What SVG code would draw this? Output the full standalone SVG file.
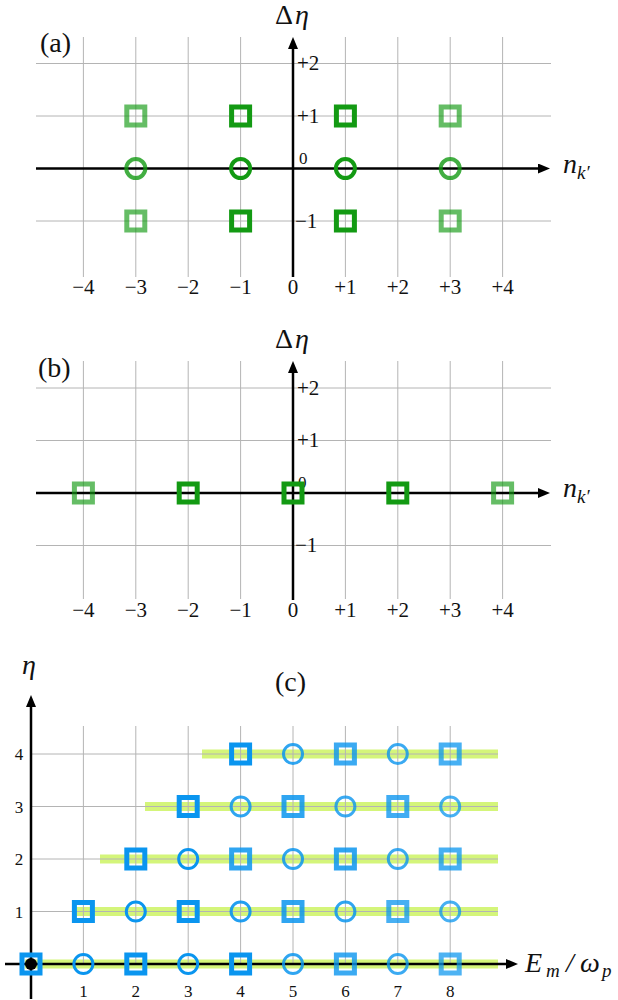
<svg xmlns="http://www.w3.org/2000/svg" width="618" height="1000" viewBox="0 0 618 1000">
<defs>
<marker id="arr" markerUnits="userSpaceOnUse" viewBox="0 0 12 10" refX="1" refY="5" markerWidth="12" markerHeight="10" orient="auto">
<path d="M0,0 L12,5 L0,10 z" fill="#000"/>
</marker>
<style>
.grid{stroke:#b4b4b4;stroke-width:1;fill:none}
.axis{stroke:#000;stroke-width:2.5;fill:none;marker-end:url(#arr)}
.tk{font-family:"Liberation Serif",serif;font-size:21px;fill:#111}
.tkc{font-family:"Liberation Serif",serif;font-size:17px;fill:#111;text-anchor:middle}
.lab{font-family:"Liberation Serif",serif;font-size:28px;fill:#111}
.it{font-style:italic}
.sq{fill:none;stroke-width:5}
.ci{fill:none;stroke-width:4}
.gd{stroke:#139a13}
.gl{stroke:#139a13;stroke-opacity:0.65}
.gm{stroke:#139a13;stroke-opacity:0.8}
.bsq{fill:none;stroke:#0a95ef;stroke-width:5}
.bci{fill:none;stroke:#0a95ef;stroke-width:3}
.band{fill:#d4f57a}
</style>
</defs>

<!-- Panel (a) -->
<g id="panel-a-grid">
<path class="grid" d="M83.4,37V277M135.8,37V277M188.2,37V277M240.6,37V277M345.4,37V277M397.8,37V277M450.2,37V277M502.6,37V277M36,63.5H551M36,116H551M36,221H551"/>
</g>
<g id="connectors-a">
<line class="axis" x1="36" y1="168.5" x2="539" y2="168.5"/>
<line class="axis" x1="293" y1="277" x2="293" y2="48"/>
</g>
<g id="labels-a">
<text class="lab" x="40" y="52">(a)</text>
<text class="lab" x="275" y="24">Δ<tspan class="it" x="295">η</tspan></text>
<text class="lab it" x="563" y="173">n<tspan font-size="19" dy="6">k′</tspan></text>
<g class="tk" text-anchor="middle">
<text x="83.4" y="294">−4</text><text x="135.8" y="294">−3</text><text x="188.2" y="294">−2</text><text x="240.6" y="294">−1</text><text x="293" y="294">0</text>
<text x="345.4" y="294">+1</text><text x="397.8" y="294">+2</text><text x="450.2" y="294">+3</text><text x="502.6" y="294">+4</text>
</g>
<g class="tk">
<text x="297" y="70">+2</text><text x="297" y="123">+1</text><text x="299" y="164" font-size="17">0</text><text x="295" y="228">−1</text>
</g>
</g>
<g id="a-sq-m3-p1"><rect class="sq gl" x="126.8" y="107" width="18" height="18"/></g>
<g id="a-sq-m1-p1"><rect class="sq gd" x="231.6" y="107" width="18" height="18"/></g>
<g id="a-sq-p1-p1"><rect class="sq gd" x="336.4" y="107" width="18" height="18"/></g>
<g id="a-sq-p3-p1"><rect class="sq gl" x="441.2" y="107" width="18" height="18"/></g>
<g id="a-ci-m3-0"><circle class="ci gm" cx="135.8" cy="168.5" r="9.5"/></g>
<g id="a-ci-m1-0"><circle class="ci gd" cx="240.6" cy="168.5" r="9.5"/></g>
<g id="a-ci-p1-0"><circle class="ci gd" cx="345.4" cy="168.5" r="9.5"/></g>
<g id="a-ci-p3-0"><circle class="ci gm" cx="450.2" cy="168.5" r="9.5"/></g>
<g id="a-sq-m3-m1"><rect class="sq gl" x="126.8" y="212" width="18" height="18"/></g>
<g id="a-sq-m1-m1"><rect class="sq gd" x="231.6" y="212" width="18" height="18"/></g>
<g id="a-sq-p1-m1"><rect class="sq gd" x="336.4" y="212" width="18" height="18"/></g>
<g id="a-sq-p3-m1"><rect class="sq gl" x="441.2" y="212" width="18" height="18"/></g>

<!-- Panel (b) -->
<g id="panel-b-grid">
<path class="grid" d="M83.4,361V599M135.8,361V599M188.2,361V599M240.6,361V599M345.4,361V599M397.8,361V599M450.2,361V599M502.6,361V599M36,388H551M36,440.5H551M36,545.5H551"/>
</g>
<g id="connectors-b">
<line class="axis" x1="36" y1="493" x2="539" y2="493"/>
<line class="axis" x1="293" y1="600" x2="293" y2="372"/>
</g>
<g id="labels-b">
<text class="lab" x="38" y="377">(b)</text>
<text class="lab" x="275" y="348">Δ<tspan class="it" x="295">η</tspan></text>
<text class="lab it" x="563" y="497">n<tspan font-size="19" dy="6">k′</tspan></text>
<g class="tk" text-anchor="middle">
<text x="83.4" y="617">−4</text><text x="135.8" y="617">−3</text><text x="188.2" y="617">−2</text><text x="240.6" y="617">−1</text><text x="293" y="617">0</text>
<text x="345.4" y="617">+1</text><text x="397.8" y="617">+2</text><text x="450.2" y="617">+3</text><text x="502.6" y="617">+4</text>
</g>
<g class="tk">
<text x="297" y="395">+2</text><text x="297" y="447">+1</text><text x="298" y="488" font-size="17">0</text><text x="295" y="552">−1</text>
</g>
</g>
<g id="b-sq-m4"><rect class="sq gl" x="74.4" y="484" width="18" height="18"/></g>
<g id="b-sq-m2"><rect class="sq gd" x="179.2" y="484" width="18" height="18"/></g>
<g id="b-sq-0"><rect class="sq gd" x="284" y="484" width="18" height="18"/></g>
<g id="b-sq-p2"><rect class="sq gd" x="388.8" y="484" width="18" height="18"/></g>
<g id="b-sq-p4"><rect class="sq gl" x="493.6" y="484" width="18" height="18"/></g>

<!-- Panel (c) -->
<g id="panel-c-bands">
<rect class="band" x="25" y="959.5" width="473" height="9"/>
<rect class="band" x="75" y="907" width="423" height="9"/>
<rect class="band" x="100" y="854.5" width="398" height="9"/>
<rect class="band" x="145" y="802" width="353" height="9"/>
<rect class="band" x="202" y="749.5" width="296" height="9"/>
</g>
<g id="panel-c-grid">
<path class="grid" stroke="#a8a8a8" d="M83.4,726V964M135.8,726V964M188.2,726V964M240.6,726V964M293,726V964M345.4,726V964M397.8,726V964M450.2,726V964M31,911.5H498M31,859H498M31,806.5H498M31,754H498"/>
</g>
<g id="connectors-c">
<line class="axis" x1="5" y1="964" x2="507" y2="964"/>
<line class="axis" x1="31" y1="999" x2="31" y2="706"/>
</g>
<g id="labels-c">
<text class="lab" x="275" y="691">(c)</text>
<text class="lab it" x="22" y="674">η</text>
<text class="lab it" x="525" y="972">E<tspan font-size="19" x="546" dy="5">m</tspan><tspan x="566" dy="-5">/</tspan><tspan x="580">ω</tspan><tspan font-size="19" x="602" dy="5">p</tspan></text>
<g class="tkc">
<text x="83.4" y="997">1</text><text x="135.8" y="997">2</text><text x="188.2" y="997">3</text><text x="240.6" y="997">4</text>
<text x="293" y="997">5</text><text x="345.4" y="997">6</text><text x="397.8" y="997">7</text><text x="450.2" y="997">8</text>
<text x="19" y="918">1</text><text x="19" y="865">2</text><text x="19" y="813">3</text><text x="19" y="760">4</text>
</g>
</g>

<!-- row 0 -->
<g id="c-0-0"><rect class="bsq" x="22" y="955" width="18" height="18"/><circle cx="31" cy="964" r="6" fill="#000"/></g>
<g id="c-1-0"><circle class="bci" cx="83.4" cy="964" r="9.5"/></g>
<g id="c-2-0"><rect class="bsq" x="126.8" y="955" width="18" height="18"/></g>
<g id="c-3-0"><circle class="bci" cx="188.2" cy="964" r="9.5"/></g>
<g id="c-4-0"><rect class="bsq" x="231.6" y="955" width="18" height="18"/></g>
<g id="c-5-0"><circle class="bci" stroke-opacity="0.85" cx="293" cy="964" r="9.5"/></g>
<g id="c-6-0"><rect class="bsq" stroke-opacity="0.8" x="336.4" y="955" width="18" height="18"/></g>
<g id="c-7-0"><circle class="bci" stroke-opacity="0.8" cx="397.8" cy="964" r="9.5"/></g>
<g id="c-8-0"><rect class="bsq" stroke-opacity="0.72" x="441.2" y="955" width="18" height="18"/></g>
<!-- row 1 -->
<g id="c-1-1"><rect class="bsq" x="74.4" y="902.5" width="18" height="18"/></g>
<g id="c-2-1"><circle class="bci" cx="135.8" cy="911.5" r="9.5"/></g>
<g id="c-3-1"><rect class="bsq" x="179.2" y="902.5" width="18" height="18"/></g>
<g id="c-4-1"><circle class="bci" stroke-opacity="0.9" cx="240.6" cy="911.5" r="9.5"/></g>
<g id="c-5-1"><rect class="bsq" stroke-opacity="0.85" x="284" y="902.5" width="18" height="18"/></g>
<g id="c-6-1"><circle class="bci" stroke-opacity="0.85" cx="345.4" cy="911.5" r="9.5"/></g>
<g id="c-7-1"><rect class="bsq" stroke-opacity="0.75" x="388.8" y="902.5" width="18" height="18"/></g>
<g id="c-8-1"><circle class="bci" stroke-opacity="0.75" cx="450.2" cy="911.5" r="9.5"/></g>
<!-- row 2 -->
<g id="c-2-2"><rect class="bsq" x="126.8" y="850" width="18" height="18"/></g>
<g id="c-3-2"><circle class="bci" cx="188.2" cy="859" r="9.5"/></g>
<g id="c-4-2"><rect class="bsq" stroke-opacity="0.85" x="231.6" y="850" width="18" height="18"/></g>
<g id="c-5-2"><circle class="bci" stroke-opacity="0.85" cx="293" cy="859" r="9.5"/></g>
<g id="c-6-2"><rect class="bsq" stroke-opacity="0.85" x="336.4" y="850" width="18" height="18"/></g>
<g id="c-7-2"><circle class="bci" stroke-opacity="0.8" cx="397.8" cy="859" r="9.5"/></g>
<g id="c-8-2"><rect class="bsq" stroke-opacity="0.75" x="441.2" y="850" width="18" height="18"/></g>
<!-- row 3 -->
<g id="c-3-3"><rect class="bsq" x="179.2" y="797.5" width="18" height="18"/></g>
<g id="c-4-3"><circle class="bci" stroke-opacity="0.85" cx="240.6" cy="806.5" r="9.5"/></g>
<g id="c-5-3"><rect class="bsq" stroke-opacity="0.85" x="284" y="797.5" width="18" height="18"/></g>
<g id="c-6-3"><circle class="bci" stroke-opacity="0.8" cx="345.4" cy="806.5" r="9.5"/></g>
<g id="c-7-3"><rect class="bsq" stroke-opacity="0.78" x="388.8" y="797.5" width="18" height="18"/></g>
<g id="c-8-3"><circle class="bci" stroke-opacity="0.75" cx="450.2" cy="806.5" r="9.5"/></g>
<!-- row 4 -->
<g id="c-4-4"><rect class="bsq" x="231.6" y="745" width="18" height="18"/></g>
<g id="c-5-4"><circle class="bci" stroke-opacity="0.85" cx="293" cy="754" r="9.5"/></g>
<g id="c-6-4"><rect class="bsq" stroke-opacity="0.8" x="336.4" y="745" width="18" height="18"/></g>
<g id="c-7-4"><circle class="bci" stroke-opacity="0.8" cx="397.8" cy="754" r="9.5"/></g>
<g id="c-8-4"><rect class="bsq" stroke-opacity="0.75" x="441.2" y="745" width="18" height="18"/></g>
</svg>
